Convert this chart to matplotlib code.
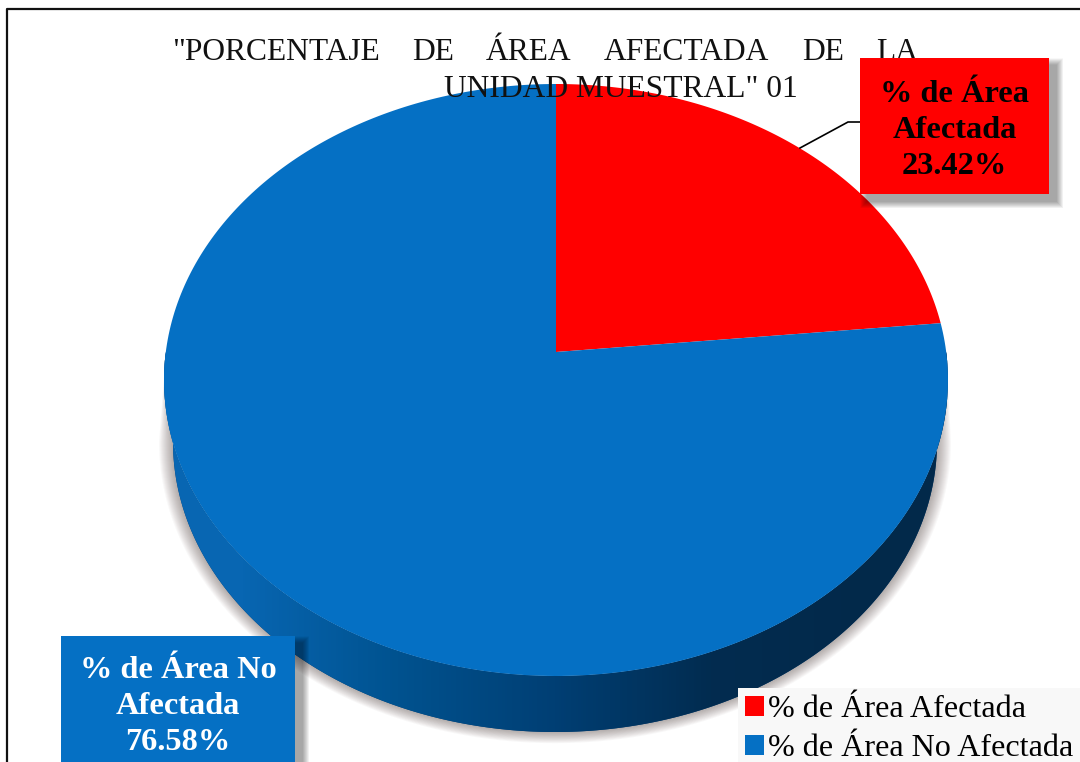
import numpy as np
import matplotlib
matplotlib.use("Agg")
import matplotlib.pyplot as plt
from matplotlib.patches import Rectangle, Patch

title_line1 = ['"PORCENTAJE', 'DE', 'ÁREA', 'AFECTADA', 'DE', 'LA']
title_line2 = 'UNIDAD MUESTRAL" 01'
categories = ['% de Área Afectada', '% de Área No Afectada']
box_names = ['% de Área\nAfectada', '% de Área No\nAfectada']
values = [23.42, 76.58]
colors = ['#ff0000', '#0570c4']

plt.rcParams['font.family'] = ['Liberation Serif', 'DejaVu Serif']


# circle on the pie -> picture pixels, with the perspective of the 3d pie
def project(x, y):
    w = 1 + 0.0946 * y
    return 556 + 390.2 * x / w, (352 - 260.05 * y) / w


def slice_outline(start, end):
    # angles clockwise from 12 o'clock
    t = np.linspace(start, end, 300)
    px, py = project(np.sin(t), np.cos(t))
    cx, cy = project(0, 0)
    return np.r_[cx, px], np.r_[cy, py]


def add_shadow(ax, x, y, w, h, dx=7, dy=7):
    # soft edge, stacked see-through rectangles
    for grow in range(14, 0, -1):
        ax.add_patch(Rectangle((x + dx - grow / 2, y + dy - grow / 2), w + grow, h + grow,
                               fc='black', ec='none', alpha=0.028, zorder=5))


fig = plt.figure(figsize=(10.8, 7.62), dpi=100)
ax = fig.add_axes([0, 0, 1, 1])
ax.set_xlim(0, 1080)
ax.set_ylim(762, 0)
ax.axis('off')

# frame, only left and top are inside the picture
ax.plot([7, 7, 1080], [762, 9, 9], color='#111111', lw=1.6, zorder=1)

# side wall of the pie
t = np.linspace(np.pi / 2, 3 * np.pi / 2, 300)
top_x, top_y = project(np.sin(t), np.cos(t))
low_x = 555 + 382 * np.sin(t)
low_y = 442 - 290 * np.cos(t)
wall_x = np.r_[top_x, low_x[::-1]]
wall_y = np.r_[top_y, low_y[::-1]]

# soft shadow under the wall
for grow in range(14, 0, -1):
    sx = 555 + (382 + grow) * np.sin(t)
    sy = 442 - (290 + grow * 0.8) * np.cos(t)
    ax.fill(np.r_[top_x, sx[::-1]], np.r_[top_y, sy[::-1]], color='#40302c',
            alpha=0.03, lw=0, zorder=2)

wall = ax.fill(wall_x, wall_y, color='#003c70', lw=0, zorder=3)[0]
shade = np.array([[0.0, 0.25, 0.5, 0.75, 1.0]])
cmap = matplotlib.colors.LinearSegmentedColormap.from_list(
    'wall', ['#0866b2', '#00528f', '#003f74', '#022c50', '#02294a'])
im = ax.imshow(shade, cmap=cmap, extent=(163, 947, 762, 300), aspect='auto',
               interpolation='bilinear', zorder=3)
im.set_clip_path(wall)
ax.set_xlim(0, 1080)
ax.set_ylim(762, 0)

# top of the pie
angles = np.cumsum([0] + values) / sum(values) * 2 * np.pi
for i in range(len(values)):
    px, py = slice_outline(angles[i], angles[i + 1])
    ax.fill(px, py, color=colors[i], lw=0, zorder=4)

# title, first line is justified
fig.canvas.draw()
renderer = fig.canvas.get_renderer()
words = [ax.text(0, 60, w, fontsize=22.7, color='#111111', zorder=6) for w in title_line1]
widths = [w.get_window_extent(renderer).width for w in words]
gap = (918 - 172 - sum(widths)) / (len(words) - 1)
pos = 172
for w, width in zip(words, widths):
    w.set_x(pos)
    pos += width + gap
ax.text(620.5, 97, title_line2, fontsize=22.7, color='#111111', ha='center', zorder=6)

# leader line and data labels
ax.plot([800, 848, 860], [148, 122, 122], color='black', lw=1.2, zorder=5)

add_shadow(ax, 860, 58, 189, 136)
ax.add_patch(Rectangle((860, 58), 189, 136, fc=colors[0], ec='none', zorder=7))
ax.text(954.5, 130.5, f'{box_names[0]}\n{values[0]:.2f}%', fontsize=23.3, fontweight='bold',
        color='black', ha='center', va='center', linespacing=1.32, zorder=8)

add_shadow(ax, 61, 636, 234, 140)
ax.add_patch(Rectangle((61, 636), 234, 140, fc=colors[1], ec='none', zorder=7))
ax.text(178, 706.5, f'{box_names[1]}\n{values[1]:.2f}%', fontsize=23.3, fontweight='bold',
        color='white', ha='center', va='center', linespacing=1.32, zorder=8)

# legend
handles = [Patch(fc=c, ec='none') for c in colors]
leg = ax.legend(handles, categories, loc='lower right', bbox_to_anchor=(1.0, -0.0105),
                fontsize=23.1, frameon=True, facecolor='#f8f8f8', edgecolor='none',
                framealpha=1, fancybox=False, handlelength=0.58, handleheight=0.58,
                handletextpad=0.13, labelspacing=0.3, borderpad=0.22, borderaxespad=0)
leg.set_zorder(9)

fig.savefig('out.png', dpi=100)
